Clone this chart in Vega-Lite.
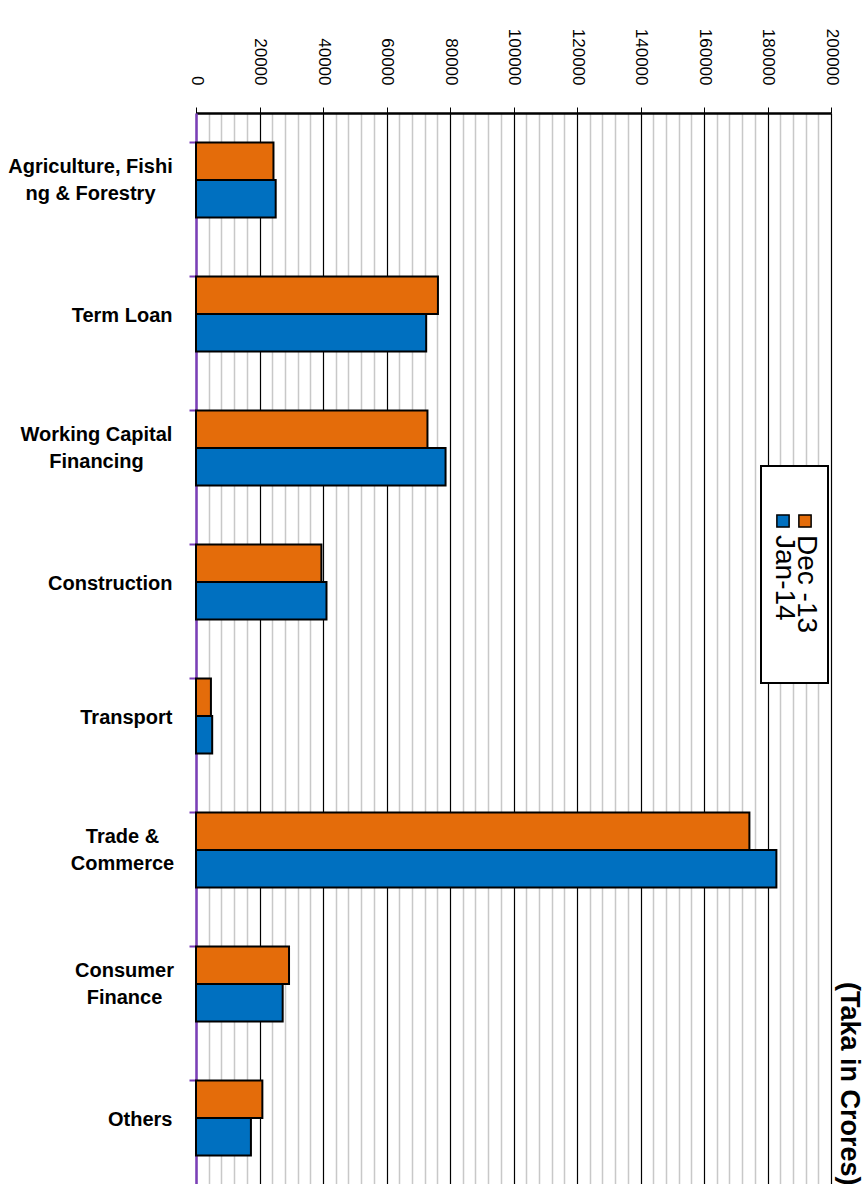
{
  "$schema": "https://vega.github.io/schema/vega-lite/v6.json",
  "width": 635,
  "height": 1072,
  "autosize": {"type": "none"},
  "padding": {"left": 196, "top": 113, "right": 35, "bottom": 0},
  "background": "white",
  "config": {"view": {"stroke": null}, "font": "Liberation Sans",
    "axis": {"labelFont": "Liberation Sans", "titleFont": "Liberation Sans"}, "legend": {"labelFont": "Liberation Sans", "titleFont": "Liberation Sans"}},
  "data": {"values": [
    {"sector": "Agriculture, Fishing & Forestry", "period": "Dec -13", "value": 24400},
    {"sector": "Agriculture, Fishing & Forestry", "period": "Jan-14", "value": 25100},
    {"sector": "Term Loan", "period": "Dec -13", "value": 76200},
    {"sector": "Term Loan", "period": "Jan-14", "value": 72500},
    {"sector": "Working Capital Financing", "period": "Dec -13", "value": 72900},
    {"sector": "Working Capital Financing", "period": "Jan-14", "value": 78600},
    {"sector": "Construction", "period": "Dec -13", "value": 39500},
    {"sector": "Construction", "period": "Jan-14", "value": 41100},
    {"sector": "Transport", "period": "Dec -13", "value": 4700},
    {"sector": "Transport", "period": "Jan-14", "value": 5100},
    {"sector": "Trade & Commerce", "period": "Dec -13", "value": 174300},
    {"sector": "Trade & Commerce", "period": "Jan-14", "value": 182800},
    {"sector": "Consumer Finance", "period": "Dec -13", "value": 29300},
    {"sector": "Consumer Finance", "period": "Jan-14", "value": 27300},
    {"sector": "Others", "period": "Dec -13", "value": 20900},
    {"sector": "Others", "period": "Jan-14", "value": 17300}
  ]},
  "resolve": {"axis": {"x": "independent", "y": "independent"}},
  "encoding": {
    "y": {"field": "sector", "type": "nominal", "sort": null,
      "scale": {"paddingInner": 0.44, "paddingOuter": 0.22},
      "axis": {"title": null, "bandPosition": 0, "labelFontSize": 20, "labelFontWeight": "bold", "labelColor": "black", "labelFont": "Liberation Sans",
        "labelLineHeight": 27, "labelLimit": 300,
        "labelExpr": "datum.label == 'Agriculture, Fishing & Forestry' ? ['Agriculture, Fishi', 'ng & Forestry'] : datum.label == 'Working Capital Financing' ? ['Working Capital', 'Financing'] : datum.label == 'Trade & Commerce' ? ['Trade &', 'Commerce'] : datum.label == 'Consumer Finance' ? ['Consumer', 'Finance'] : datum.label",
        "labelAlign": {"condition": {"test": "indexof(['Agriculture, Fishing & Forestry', 'Working Capital Financing', 'Trade & Commerce', 'Consumer Finance'], datum.value) >= 0", "value": "center"}, "value": "right"},
        "labelPadding": {"condition": [
          {"test": "datum.value == 'Agriculture, Fishing & Forestry'", "value": 99},
          {"test": "datum.value == 'Working Capital Financing'", "value": 93},
          {"test": "datum.value == 'Trade & Commerce'", "value": 67},
          {"test": "datum.value == 'Consumer Finance'", "value": 65}
        ], "value": 17},
        "labelOffset": {"condition": {"test": "indexof(['Agriculture, Fishing & Forestry', 'Working Capital Financing', 'Trade & Commerce', 'Consumer Finance'], datum.value) >= 0", "value": -13}, "value": 2},
        "tickColor": "#7B3FB8", "tickSize": 7, "tickWidth": 2, "domainColor": "#7B3FB8", "domainWidth": 2.5, "grid": false}}
  },
  "layer": [
    {
      "mark": {"type": "bar", "opacity": 0},
      "encoding": {
        "x": {"field": "value", "type": "quantitative", "scale": {"domain": [0, 200000], "nice": false},
          "axis": {"orient": "bottom", "values": [4000, 8000, 12000, 16000, 24000, 28000, 32000, 36000, 44000, 48000, 52000, 56000, 64000, 68000, 72000, 76000, 84000, 88000, 92000, 96000, 104000, 108000, 112000, 116000, 124000, 128000, 132000, 136000, 144000, 148000, 152000, 156000, 164000, 168000, 172000, 176000, 184000, 188000, 192000, 196000],
            "grid": true, "gridColor": "#c8c8c8", "gridWidth": 1.5, "gridOpacity": 1, "labels": false, "ticks": false, "domain": false, "title": null}},
        "y": {"field": "sector", "type": "nominal", "sort": null,
          "axis": {"orient": "right", "labels": false, "ticks": false, "domain": false, "grid": false,
            "title": "(Taka in Crores)", "titleAngle": 90, "titleAnchor": "end", "titleAlign": "right", "titleBaseline": "bottom", "titleFontSize": 27, "titleFontWeight": "bold", "titleColor": "black", "titlePadding": 3, "titleFont": "Liberation Sans"}}
      }
    },
    {
      "mark": {"type": "bar", "stroke": "black", "strokeWidth": 2},
      "encoding": {
        "x": {"field": "value", "type": "quantitative", "scale": {"domain": [0, 200000], "nice": false},
          "axis": {"orient": "top", "values": [0, 20000, 40000, 60000, 80000, 100000, 120000, 140000, 160000, 180000, 200000],
            "format": "d", "labelAngle": 90, "labelFontSize": 17, "labelColor": "black", "labelPadding": 22, "labelFont": "Liberation Sans",
            "tickSize": 6, "tickColor": "black", "tickWidth": 1,
            "domainColor": "black", "domainWidth": 2.5,
            "grid": true, "gridColor": "black", "gridWidth": 1.2, "gridOpacity": 1, "title": null, "labelFlush": false, "labelOverlap": false}},
        "yOffset": {"field": "period", "type": "nominal", "sort": ["Dec -13", "Jan-14"], "scale": {"paddingInner": 0, "paddingOuter": 0}},
        "color": {"field": "period", "type": "nominal",
          "scale": {"domain": ["Jan-14", "Dec -13"], "range": ["#0070C0", "#E46C0A"]},
          "legend": {"orient": "none", "legendX": 565, "legendY": 353, "direction": "horizontal", "title": null,
            "symbolType": "square", "symbolSize": 150, "symbolStrokeColor": "black", "symbolStrokeWidth": 1.5, "symbolOpacity": 1,
            "labelFontSize": 28, "labelColor": "black", "labelOffset": -13, "labelFont": "Liberation Sans",
            "clipHeight": 201, "gridAlign": "none",
            "columnPadding": -8, "strokeColor": "black", "fillColor": "white", "padding": 8,
            "encode": {
              "symbols": {"update": {"y": {"value": 47}}},
              "labels": {"update": {"y": {"value": 47}, "angle": {"value": 90}, "align": {"value": "left"}, "baseline": {"value": "middle"}, "dx": {"value": 14}}},
              "legend": {"update": {"strokeWidth": {"value": 2}}}
            }}}
      }
    }
  ]
}
